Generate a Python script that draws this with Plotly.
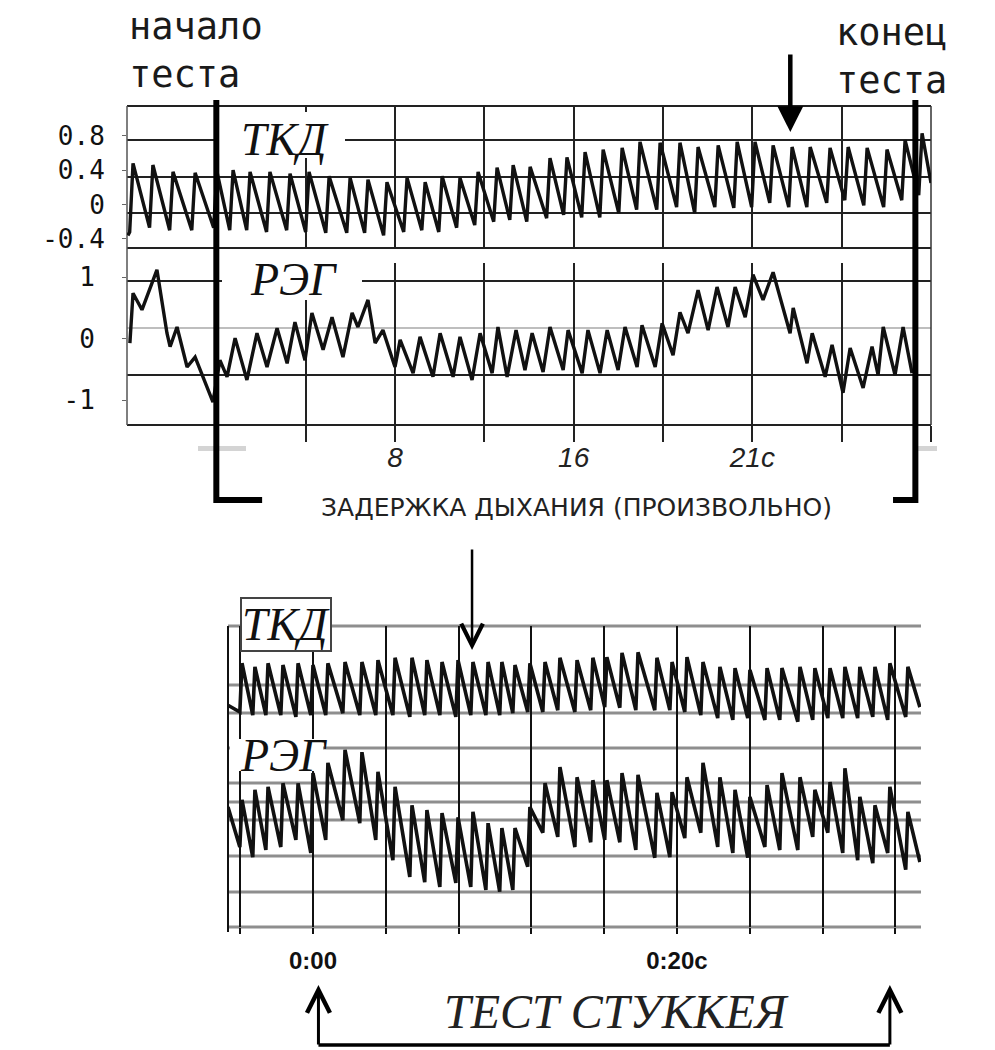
import plotly.graph_objects as go

W, H = 995, 1050

# ---------------- data ----------------
# Upper record: voluntary breath hold; time in seconds, 0 = start of test
tkd_top_beat_t = [-3.73, -2.84, -1.94, -0.95, 0.03, 0.75, 1.51, 2.40, 3.30, 4.15,
                  5.05, 5.99, 6.79, 7.64, 8.54, 9.35, 10.11, 10.91, 11.72, 12.57,
                  13.29, 14.05, 14.94, 15.70, 16.51, 17.32, 18.17, 18.97, 19.87, 20.76,
                  21.57, 22.47, 23.32, 24.12, 24.93, 25.78, 26.59, 27.48, 28.29, 29.14,
                  30.03, 30.84, 31.60]
tkd_top_peak = [0.48, 0.46, 0.38, 0.37, 0.38, 0.40, 0.38, 0.38, 0.36, 0.38,
                0.33, 0.31, 0.29, 0.26, 0.31, 0.26, 0.33, 0.31, 0.38, 0.43,
                0.46, 0.44, 0.54, 0.55, 0.61, 0.64, 0.66, 0.73, 0.72, 0.72,
                0.67, 0.69, 0.73, 0.73, 0.69, 0.67, 0.67, 0.66, 0.67, 0.66,
                0.64, 0.75, 0.83]
tkd_top_trough = [-0.32, -0.27, -0.30, -0.30, -0.27, -0.30, -0.30, -0.32, -0.30, -0.32,
                  -0.33, -0.33, -0.33, -0.36, -0.32, -0.30, -0.32, -0.27, -0.24, -0.20,
                  -0.18, -0.20, -0.16, -0.12, -0.15, -0.15, -0.10, -0.06, -0.06, -0.03,
                  -0.10, -0.03, -0.04, -0.03, 0.02, -0.03, -0.03, 0.02, 0.05, -0.01,
                  -0.03, 0.05, 0.11]
tkd_top_edge_t = [-3.96, 32.0]
tkd_top_edge_v = [-0.36, 0.25]

reg_top_t = [-3.87, -3.73, -3.33, -2.66, -2.21, -2.07, -1.76, -1.31, -0.95, -0.51,
             -0.15, 0.16, 0.48, 0.84, 1.37, 1.82, 2.27, 2.72, 3.17, 3.52,
             3.97, 4.28, 4.78, 5.18, 5.67, 6.08, 6.34, 6.79, 7.11, 7.46,
             8.00, 8.23, 8.81, 9.12, 9.70, 10.02, 10.60, 10.91, 11.45, 11.81,
             12.35, 12.61, 13.02, 13.42, 13.82, 14.14, 14.63, 14.94, 15.53, 15.75,
             16.38, 16.64, 17.18, 17.50, 17.99, 18.30, 18.84, 19.06, 19.65, 19.96,
             20.45, 20.76, 21.12, 21.57, 22.02, 22.42, 22.91, 23.23, 23.68, 24.03,
             24.48, 24.93, 25.69, 25.83, 26.45, 26.68, 27.26, 27.57, 28.06, 28.38,
             28.96, 29.36, 29.63, 29.86, 30.39, 30.75, 31.15]
reg_top_v = [-0.07, 0.74, 0.47, 1.12, 0.09, -0.13, 0.19, -0.46, -0.30, -0.72,
             -1.03, -0.35, -0.62, 0.01, -0.67, 0.09, -0.46, 0.17, -0.40, 0.27,
             -0.35, 0.42, -0.18, 0.35, -0.30, 0.42, 0.19, 0.63, -0.07, 0.14,
             -0.46, -0.02, -0.56, 0.03, -0.62, 0.09, -0.62, 0.03, -0.67, 0.09,
             -0.56, 0.19, -0.62, 0.14, -0.51, 0.09, -0.54, 0.19, -0.51, 0.14,
             -0.56, 0.14, -0.56, 0.14, -0.51, 0.19, -0.46, 0.22, -0.46, 0.25,
             -0.27, 0.43, 0.09, 0.79, 0.14, 0.84, 0.19, 0.84, 0.35, 1.04,
             0.63, 1.08, 0.09, 0.50, -0.40, 0.09, -0.62, -0.10, -0.88, -0.15,
             -0.80, -0.13, -0.59, 0.19, -0.59, 0.19, -0.56]

# Lower record: Stukkey test; time in seconds, 0 = 0:00
bot_beat_t = [-3.90, -3.19, -2.47, -1.65, -0.82, 0.00, 0.82, 1.76, 2.69, 3.57,
              4.51, 5.44, 6.26, 7.09, 7.97, 8.79, 9.62, 10.38, 11.10, 11.92,
              12.75, 13.57, 14.51, 15.38, 16.15, 16.98, 17.86, 18.90, 19.73, 20.55,
              21.43, 22.36, 23.19, 24.01, 24.95, 25.77, 26.76, 27.58, 28.41, 29.23,
              30.05, 30.88, 31.70, 32.69]
tkd_bot_peak = [0.39, 0.33, 0.39, 0.36, 0.39, 0.36, 0.39, 0.41, 0.41, 0.44,
                0.48, 0.48, 0.44, 0.41, 0.44, 0.41, 0.41, 0.41, 0.36, 0.39,
                0.41, 0.48, 0.44, 0.48, 0.49, 0.56, 0.57, 0.48, 0.41, 0.49,
                0.41, 0.33, 0.31, 0.28, 0.31, 0.31, 0.33, 0.31, 0.31, 0.33,
                0.33, 0.33, 0.39, 0.33]
tkd_bot_trough = [-0.41, -0.46, -0.46, -0.46, -0.49, -0.46, -0.46, -0.43, -0.46, -0.46,
                  -0.46, -0.49, -0.46, -0.46, -0.49, -0.46, -0.46, -0.46, -0.43, -0.41,
                  -0.41, -0.38, -0.41, -0.38, -0.33, -0.34, -0.38, -0.38, -0.38, -0.41,
                  -0.46, -0.51, -0.54, -0.51, -0.54, -0.54, -0.57, -0.54, -0.51, -0.51,
                  -0.51, -0.49, -0.54, -0.49]
tkd_bot_edge_t = [-4.67, 33.35]
tkd_bot_edge_v = [-0.30, -0.33]

reg_bot_peak = [0.63, 0.80, 0.85, 0.91, 0.91, 1.08, 1.25, 1.47, 1.43, 1.10,
                0.85, 0.54, 0.46, 0.41, 0.34, 0.43, 0.24, 0.16, 0.16, 0.51,
                0.91, 1.18, 1.01, 0.96, 0.96, 1.08, 1.05, 0.75, 0.76, 1.01,
                1.25, 1.01, 0.80, 0.68, 0.88, 1.08, 1.01, 0.80, 0.93, 1.16,
                0.68, 0.54, 0.85, 0.43]
reg_bot_trough = [-0.16, -0.33, -0.21, -0.16, -0.04, -0.26, -0.04, 0.29, 0.24, -0.04,
                  -0.38, -0.66, -0.75, -0.83, -0.76, -0.83, -0.88, -0.91, -0.88, -0.49,
                  0.08, 0.01, -0.16, -0.08, -0.04, -0.08, -0.21, -0.34, -0.33, -0.01,
                  0.08, -0.16, -0.26, -0.34, -0.16, -0.21, -0.21, 0.01, 0.08, -0.26,
                  -0.38, -0.43, -0.26, -0.54]
reg_bot_edge_t = [-4.67, 33.35]
reg_bot_edge_v = [0.51, -0.41]

top_tick_vals = [0, 4, 8, 12, 16, 20, 24, 28, 32]
top_tick_text = ["", "", "8", "", "16", "", "21с", "", ""]
bot_tick_vals = [-4, 0, 4, 8, 12, 16, 20, 24, 28, 32]
bot_tick_text = ["", "0:00", "", "", "", "", "0:20с", "", "", ""]
tkd_tick_vals = [0.8, 0.4, 0, -0.4]
tkd_tick_text = ["0.8", "0.4", "0", "-0.4"]
reg_tick_vals = [1, 0, -1]
reg_tick_text = ["1", "0", "-1"]

# event times
test_start_t = 0.0
test_end_t = 31.3
top_arrow_t = 25.7
bot_arrow_t = 8.74
stukkey_start_t = 0.3
stukkey_end_t = 31.7

# ---------------- helpers ----------------
def pxx(p):
    return p / W


def pyy(p):
    return 1 - p / H


def sawtooth(beat_t, trough, peak, edge_t, edge_v, rise):
    xs, ys = [edge_t[0]], [edge_v[0]]
    for t, lo, hi in zip(beat_t, trough, peak):
        xs += [t - rise, t]
        ys += [lo, hi]
    xs.append(edge_t[1])
    ys.append(edge_v[1])
    return xs, ys


INK = "#111111"
fig = go.Figure()

x1, y1 = sawtooth(tkd_top_beat_t, tkd_top_trough, tkd_top_peak, tkd_top_edge_t, tkd_top_edge_v, 0.15)
fig.add_trace(go.Scatter(x=x1, y=y1, xaxis="x", yaxis="y", mode="lines",
                         line=dict(color=INK, width=3.4), hoverinfo="skip", showlegend=False))
fig.add_trace(go.Scatter(x=reg_top_t, y=reg_top_v, xaxis="x", yaxis="y2", mode="lines",
                         line=dict(color=INK, width=3.4), hoverinfo="skip", showlegend=False))
x3, y3 = sawtooth(bot_beat_t, tkd_bot_trough, tkd_bot_peak, tkd_bot_edge_t, tkd_bot_edge_v, 0.12)
fig.add_trace(go.Scatter(x=x3, y=y3, xaxis="x3", yaxis="y3", mode="lines",
                         line=dict(color=INK, width=3.6), hoverinfo="skip", showlegend=False))
x4, y4 = sawtooth(bot_beat_t, reg_bot_trough, reg_bot_peak, reg_bot_edge_t, reg_bot_edge_v, 0.12)
fig.add_trace(go.Scatter(x=x4, y=y4, xaxis="x3", yaxis="y4", mode="lines",
                         line=dict(color=INK, width=3.6), hoverinfo="skip", showlegend=False))

shapes = []


def hline(py, x0, x1, color, width):
    shapes.append(dict(type="line", xref="paper", yref="paper", x0=pxx(x0), x1=pxx(x1),
                       y0=pyy(py), y1=pyy(py), line=dict(color=color, width=width), layer="below"))


def vline(px, y0, y1, color, width):
    shapes.append(dict(type="line", xref="paper", yref="paper", x0=pxx(px), x1=pxx(px),
                       y0=pyy(y0), y1=pyy(y1), line=dict(color=color, width=width), layer="below"))


def blank(x0, x1, y0, y1):
    # white patch behind a label (hides grid lines, as in the scan)
    shapes.append(dict(type="rect", xref="paper", yref="paper", x0=pxx(x0), x1=pxx(x1),
                       y0=pyy(y1), y1=pyy(y0), fillcolor="#ffffff", line=dict(width=0),
                       layer="above"))


# upper panel frame & horizontal grid
for p in [106, 140, 177, 213, 248, 281, 375, 425]:
    hline(p, 127, 931, "#222222", 2)
hline(328, 127, 931, "#a8a8a8", 1.5)
vline(127, 106, 425, "#555555", 1.5)
vline(931, 106, 425, "#333333", 1.5)
# lower panel horizontal grid
for p in [626, 685, 713, 748, 783, 802, 820, 856, 892, 927]:
    hline(p, 228, 921, "#8e8e8e", 3)
vline(228, 626, 932, "#111111", 2)
# scan smudges
for a, b in [(198, 246), (916, 937)]:
    shapes.append(dict(type="rect", xref="paper", yref="paper", x0=pxx(a), x1=pxx(b),
                       y0=pyy(451), y1=pyy(446), fillcolor="#d4d4d4", line=dict(width=0),
                       layer="below"))

# label patches
blank(219, 345, 112, 158)
blank(222, 362, 262, 300)
blank(230, 323, 739, 771)

# test start / end brackets (upper)
shapes.append(dict(type="path", xref="x", yref="paper",
                   path=f"M {test_start_t} {pyy(100)} L {test_start_t} {pyy(500)} L 2.05 {pyy(500)}",
                   line=dict(color="#000000", width=6), layer="above"))
shapes.append(dict(type="path", xref="x", yref="paper",
                   path=f"M {test_end_t} {pyy(100)} L {test_end_t} {pyy(500)} L 30.3 {pyy(500)}",
                   line=dict(color="#000000", width=6), layer="above"))
# Stukkey bracket (lower)
shapes.append(dict(type="line", xref="x3", yref="paper", x0=stukkey_start_t, x1=stukkey_end_t,
                   y0=pyy(1045), y1=pyy(1045), line=dict(color="#000000", width=3.5), layer="above"))

ann = []
mono = "DejaVu Sans Mono"
serif_it = dict(family="Liberation Serif", size=46, color=INK, style="italic")


def text(s, x, y, font, xanchor="center", **kw):
    ann.append(dict(text=s, x=pxx(x), y=pyy(y), xref="paper", yref="paper", showarrow=False,
                    xanchor=xanchor, yanchor="middle", font=font, **kw))


text("начало<br>теста", 127, 50, dict(family=mono, size=37, color="#1a1a1a"), xanchor="left", align="left")
text("конец<br>теста", 834, 56, dict(family=mono, size=37, color="#1a1a1a"), xanchor="left", align="left")
text("ТКД", 285, 139, serif_it)
text("РЭГ", 293, 280, serif_it)
text("ЗАДЕРЖКА ДЫХАНИЯ (ПРОИЗВОЛЬНО)", 576, 507,
     dict(family="DejaVu Sans", size=25, color="#222222"))
text("ТКД", 286, 624, serif_it, bgcolor="#ffffff", bordercolor="#444444", borderwidth=2, borderpad=0)
text("РЭГ", 283, 755, serif_it)
text("ТЕСТ СТУККЕЯ", 616, 1011, dict(family="Liberation Serif", size=48, color="#222222", style="italic"))

# arrows
ann.append(dict(text="", x=top_arrow_t, y=pyy(132), xref="x", yref="paper", showarrow=True,
                ax=0, ay=-79, arrowhead=2, arrowwidth=4.5, arrowsize=1.15, arrowcolor="#000000"))
ann.append(dict(text="", x=bot_arrow_t, y=pyy(650), xref="x3", yref="paper", showarrow=True,
                ax=0, ay=-102, arrowhead=5, arrowwidth=2.5, arrowsize=1.7, arrowcolor="#000000"))
for t in [stukkey_start_t, stukkey_end_t]:
    ann.append(dict(text="", x=t, y=pyy(985), xref="x3", yref="paper", showarrow=True,
                    ax=0, ay=61, arrowhead=5, arrowwidth=3, arrowsize=1.5, arrowcolor="#000000"))

fig.update_layout(
    width=W, height=H, margin=dict(l=0, r=0, t=0, b=0),
    paper_bgcolor="#ffffff", plot_bgcolor="rgba(0,0,0,0)", showlegend=False,
    shapes=shapes, annotations=ann,
    xaxis=dict(domain=[pxx(127), pxx(931)], range=[-4, 32], anchor="y2",
               tickmode="array", tickvals=top_tick_vals, ticktext=top_tick_text,
               showgrid=True, gridcolor="#222222", gridwidth=1.5, zeroline=False, showline=False,
               ticks="outside", ticklen=16, tickwidth=1.5, tickcolor="#222222",
               ticklabelstandoff=-9,
               tickfont=dict(family="Liberation Sans", size=28, color="#222222", style="italic"),
               automargin=False, fixedrange=True),
    yaxis=dict(domain=[pyy(248), pyy(106)], range=[-0.507, 1.148], anchor="x",
               tickmode="array", tickvals=tkd_tick_vals, ticktext=tkd_tick_text,
               showgrid=False, zeroline=False, showline=False,
               ticks="outside", ticklen=4, tickcolor="#666666", ticklabelstandoff=12,
               tickfont=dict(family=mono, size=26, color=INK), automargin=False, fixedrange=True),
    yaxis2=dict(domain=[pyy(425), pyy(263)], range=[-1.403, 1.231], anchor="x",
                tickmode="array", tickvals=reg_tick_vals, ticktext=reg_tick_text,
                showgrid=False, zeroline=False, showline=False,
                ticks="outside", ticklen=4, tickcolor="#666666", ticklabelstandoff=22,
                tickfont=dict(family=mono, size=26, color=INK), automargin=False, fixedrange=True),
    xaxis3=dict(domain=[pxx(228), pxx(921)], range=[-4.67, 33.41], anchor="y4",
                tickmode="array", tickvals=bot_tick_vals, ticktext=bot_tick_text,
                showgrid=True, gridcolor="#111111", gridwidth=1.5, zeroline=False, showline=False,
                ticks="outside", ticklen=6, tickwidth=1.5, tickcolor="#111111",
                ticklabelstandoff=6,
                tickfont=dict(family="Liberation Sans", size=24, color="#111111", weight="bold"),
                automargin=False, fixedrange=True),
    yaxis3=dict(domain=[pyy(748), pyy(626)], range=[-1, 1], anchor="x3", visible=False,
                fixedrange=True),
    yaxis4=dict(domain=[pyy(927), pyy(748)], range=[-1.5, 1.5], anchor="x3", visible=False,
                fixedrange=True),
)

fig.write_html("out.html")
